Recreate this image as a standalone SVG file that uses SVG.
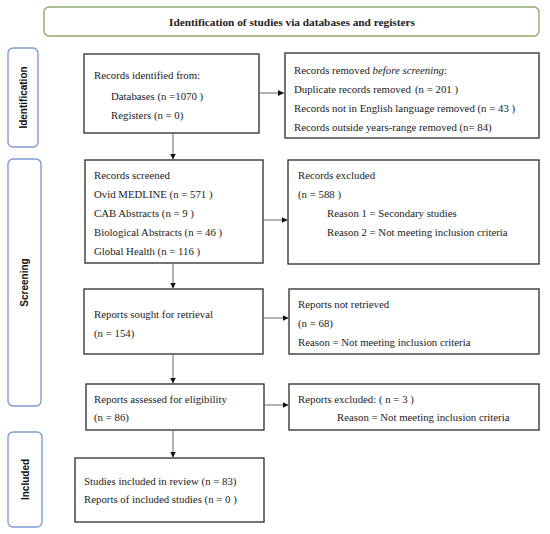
<svg xmlns="http://www.w3.org/2000/svg" width="550" height="534" viewBox="0 0 550 534">
<defs>
<marker id="ah" viewBox="0 0 10 10" refX="10" refY="5" markerWidth="6" markerHeight="6" markerUnits="userSpaceOnUse" orient="auto">
<path d="M0,0 L10,5 L0,10 Z" fill="#111"/>
</marker>
<style>
.box{fill:#fff;stroke:#3a3a3a;stroke-width:1.4}
.side{fill:#fff;stroke:#7f9bd3;stroke-width:1.4}
.banner{fill:#fff;stroke:#8fac6e;stroke-width:1.4}
.t{font-family:"Liberation Serif","Times New Roman",serif;font-size:10.8px;fill:#222}
.bt{font-family:"Liberation Serif","Times New Roman",serif;font-size:11.3px;font-weight:bold;fill:#222}
.st{font-family:"Liberation Sans",Arial,sans-serif;font-size:10px;font-weight:bold;fill:#111}
.c{stroke:#666;stroke-width:1;fill:none}
</style>
</defs>
<rect width="550" height="534" fill="#fff"/>
<g id="banner">
<rect class="banner" x="44" y="7" width="495" height="29" rx="5"/>
<text class="bt" x="292" y="25.5" text-anchor="middle">Identification of studies via databases and registers</text>
</g>
<g id="side-identification">
<rect class="side" x="8" y="48" width="30" height="99" rx="5"/>
<text class="st" transform="translate(26.5,97.5) rotate(-90)" text-anchor="middle">Identification</text>
</g>
<g id="side-screening">
<rect class="side" x="8" y="159" width="33" height="247" rx="5"/>
<text class="st" transform="translate(28,282.5) rotate(-90)" text-anchor="middle">Screening</text>
</g>
<g id="side-included">
<rect class="side" x="8" y="432" width="34" height="95" rx="5"/>
<text class="st" transform="translate(28.5,479.5) rotate(-90)" text-anchor="middle">Included</text>
</g>
<g id="identified">
<rect class="box" x="84" y="54" width="175" height="79"/>
<text class="t" x="94" y="79">Records identified from:</text>
<text class="t" x="111" y="100">Databases (n =1070 )</text>
<text class="t" x="111" y="119">Registers (n = 0)</text>
</g>
<g id="removed">
<rect class="box" x="285" y="53" width="254" height="85"/>
<text class="t" x="294" y="74">Records removed <tspan font-style="italic">before screening</tspan>:</text>
<text class="t" x="294" y="93">Duplicate records removed<tspan x="415">(n = 201 )</tspan></text>
<text class="t" x="294" y="112">Records not in English language removed (n = 43 )</text>
<text class="t" x="294" y="131">Records outside years-range removed (n= 84)</text>
</g>
<g id="screened">
<rect class="box" x="85" y="160" width="178" height="103"/>
<text class="t" x="94" y="179">Records screened</text>
<text class="t" x="94" y="198">Ovid MEDLINE (n = 571 )</text>
<text class="t" x="94" y="217">CAB Abstracts (n = 9 )</text>
<text class="t" x="94" y="236">Biological Abstracts (n = 46 )</text>
<text class="t" x="94" y="255">Global Health (n = 116 )</text>
</g>
<g id="excluded">
<rect class="box" x="288" y="160" width="251" height="104"/>
<text class="t" x="298" y="179">Records excluded</text>
<text class="t" x="298" y="198">(n = 588 )</text>
<text class="t" x="327" y="217">Reason 1 = Secondary studies</text>
<text class="t" x="327" y="236">Reason 2 = Not meeting inclusion criteria</text>
</g>
<g id="sought">
<rect class="box" x="84" y="289" width="179" height="65"/>
<text class="t" x="94" y="318">Reports sought for retrieval</text>
<text class="t" x="94" y="337">(n = 154)</text>
</g>
<g id="not-retrieved">
<rect class="box" x="289" y="289" width="250" height="65"/>
<text class="t" x="298" y="308">Reports not retrieved</text>
<text class="t" x="298" y="327">(n = 68)</text>
<text class="t" x="298" y="346">Reason = Not meeting inclusion criteria</text>
</g>
<g id="assessed">
<rect class="box" x="86" y="384" width="178" height="46"/>
<text class="t" x="94" y="403">Reports assessed for eligibility</text>
<text class="t" x="94" y="421">(n = 86)</text>
</g>
<g id="reports-excluded">
<rect class="box" x="289" y="384" width="250" height="46"/>
<text class="t" x="298" y="403">Reports excluded: ( n = 3 )</text>
<text class="t" x="337" y="421">Reason = Not meeting inclusion criteria</text>
</g>
<g id="included">
<rect class="box" x="75" y="458" width="189" height="64"/>
<text class="t" x="84" y="485">Studies included in review (n = 83)</text>
<text class="t" x="84" y="503">Reports of included studies (n = 0 )</text>
</g>
<g id="connectors">
<line class="c" x1="259" y1="93" x2="284" y2="93" marker-end="url(#ah)"/>
<line class="c" x1="173" y1="133" x2="173" y2="159.5" marker-end="url(#ah)"/>
<line class="c" x1="263" y1="220" x2="287.5" y2="220" marker-end="url(#ah)"/>
<line class="c" x1="173" y1="263" x2="173" y2="288.5" marker-end="url(#ah)"/>
<line class="c" x1="263" y1="318" x2="288.5" y2="318" marker-end="url(#ah)"/>
<line class="c" x1="173" y1="354" x2="173" y2="383.5" marker-end="url(#ah)"/>
<line class="c" x1="264" y1="405" x2="288.5" y2="405" marker-end="url(#ah)"/>
<line class="c" x1="173" y1="430" x2="173" y2="457.5" marker-end="url(#ah)"/>
</g>
</svg>
